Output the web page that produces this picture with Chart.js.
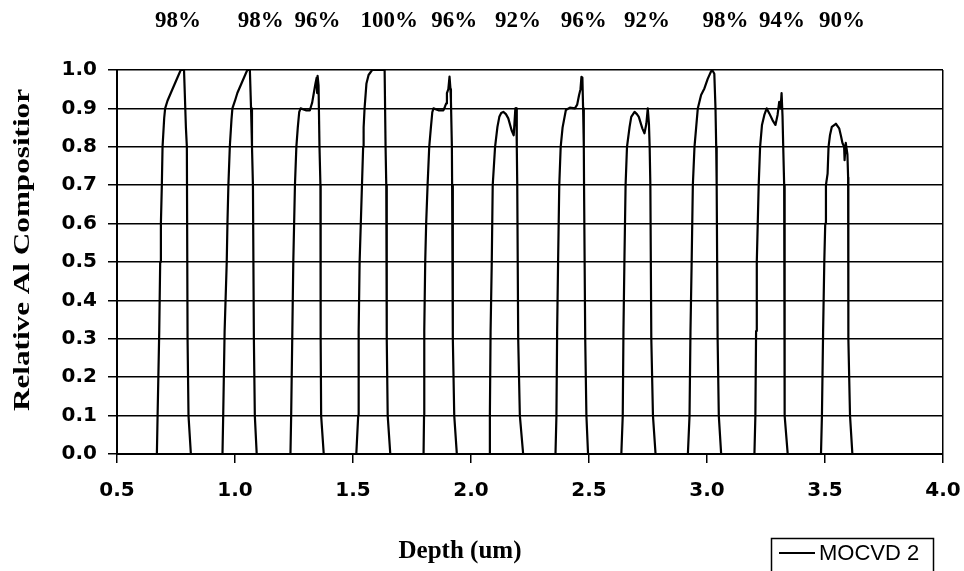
<!DOCTYPE html>
<html>
<head>
<meta charset="utf-8">
<script src="https://cdn.jsdelivr.net/npm/chart.js@4"></script>
<style>
  html, body { margin: 0; padding: 0; background: #fff; }
</style>
</head>
<body>
<canvas id="chart" width="964" height="571"></canvas>
<script>
// depth (um) and relative Al composition, one line per AlGaAs layer
const depth = [
  0.5,
  0.669, 0.672, 0.679, 0.683, 0.686, 0.690, 0.693, 0.700, 0.704, 0.714, 0.728, 0.749, 0.770, 0.784, 0.792, 0.796, 0.799, 0.803, 0.813,
  0.947, 0.950, 0.956, 0.965, 0.968, 0.972, 0.978, 0.985, 0.989, 1.000, 1.010, 1.031, 1.052, 1.063, 1.068, 1.072, 1.076, 1.080, 1.084, 1.092,
  1.235, 1.238, 1.243, 1.247, 1.254, 1.260, 1.266, 1.272, 1.278, 1.300, 1.317, 1.322, 1.327, 1.334, 1.341, 1.346, 1.348, 1.350, 1.354, 1.358, 1.362, 1.363, 1.365, 1.376,
  1.514, 1.522, 1.524, 1.528, 1.538, 1.543, 1.545, 1.549, 1.557, 1.566, 1.581, 1.634, 1.638, 1.641, 1.643, 1.647, 1.658,
  1.799, 1.801, 1.802, 1.806, 1.810, 1.816, 1.823, 1.830, 1.836, 1.841, 1.862, 1.883, 1.890, 1.895, 1.898, 1.904, 1.909, 1.913, 1.915, 1.919, 1.920, 1.923, 1.929, 1.940,
  2.078, 2.080, 2.083, 2.088, 2.092, 2.102, 2.112, 2.120, 2.128, 2.137, 2.148, 2.158, 2.172, 2.181, 2.184, 2.188, 2.190, 2.192, 2.194, 2.196, 2.200, 2.207, 2.221,
  2.358, 2.362, 2.365, 2.369, 2.374, 2.380, 2.388, 2.402, 2.419, 2.440, 2.450, 2.458, 2.464, 2.468, 2.472, 2.475, 2.478, 2.479, 2.484, 2.489, 2.496,
  2.637, 2.643, 2.646, 2.650, 2.655, 2.661, 2.672, 2.679, 2.693, 2.703, 2.711, 2.726, 2.735, 2.743, 2.749, 2.754, 2.757, 2.760, 2.764, 2.771, 2.782,
  2.919, 2.926, 2.930, 2.935, 2.940, 2.947, 2.954, 2.961, 2.975, 2.989, 3.003, 3.017, 3.022, 3.031, 3.036, 3.039, 3.041, 3.045, 3.050, 3.060,
  3.201, 3.205, 3.208, 3.211, 3.215, 3.219, 3.225, 3.233, 3.243, 3.253, 3.264, 3.278, 3.290, 3.299, 3.306, 3.312, 3.316, 3.320, 3.323, 3.327, 3.328, 3.330, 3.342,
  3.483, 3.487, 3.492, 3.497, 3.501, 3.504, 3.511, 3.515, 3.521, 3.529, 3.546, 3.560, 3.567, 3.574, 3.581, 3.583, 3.588, 3.595, 3.598, 3.599, 3.606, 3.616,
  4.0
];
const alComp = [
  0,
  0, 0.1, 0.32, 0.50, 0.60, 0.70, 0.80, 0.875, 0.90, 0.92, 0.94, 0.97, 1.0, 1.0, 0.85, 0.80, 0.30, 0.10, 0,
  0, 0.1, 0.32, 0.50, 0.60, 0.70, 0.80, 0.87, 0.90, 0.92, 0.94, 0.97, 1.0, 1.0, 0.90, 0.80, 0.70, 0.30, 0.10, 0,
  0, 0.1, 0.32, 0.50, 0.70, 0.80, 0.85, 0.89, 0.90, 0.895, 0.895, 0.905, 0.915, 0.94, 0.965, 0.98, 0.94, 0.985, 0.96, 0.80, 0.70, 0.30, 0.10, 0,
  0, 0.1, 0.32, 0.50, 0.70, 0.80, 0.85, 0.90, 0.965, 0.987, 1.0, 1.0, 0.80, 0.70, 0.30, 0.10, 0,
  0, 0.1, 0.32, 0.50, 0.60, 0.70, 0.80, 0.85, 0.89, 0.90, 0.895, 0.895, 0.905, 0.913, 0.94, 0.95, 0.983, 0.95, 0.92, 0.80, 0.70, 0.30, 0.10, 0,
  0, 0.1, 0.32, 0.50, 0.70, 0.80, 0.852, 0.878, 0.888, 0.891, 0.885, 0.874, 0.843, 0.83, 0.86, 0.90, 0.87, 0.90, 0.80, 0.70, 0.30, 0.10, 0,
  0, 0.1, 0.32, 0.50, 0.70, 0.80, 0.85, 0.896, 0.902, 0.90, 0.91, 0.935, 0.95, 0.982, 0.98, 0.90, 0.80, 0.70, 0.30, 0.10, 0,
  0, 0.1, 0.32, 0.50, 0.70, 0.80, 0.852, 0.878, 0.891, 0.885, 0.878, 0.848, 0.835, 0.86, 0.90, 0.86, 0.80, 0.70, 0.30, 0.10, 0,
  0, 0.1, 0.32, 0.50, 0.70, 0.80, 0.85, 0.90, 0.935, 0.952, 0.977, 0.996, 1.0, 0.99, 0.90, 0.80, 0.70, 0.30, 0.10, 0,
  0, 0.1, 0.32, 0.50, 0.60, 0.70, 0.80, 0.857, 0.883, 0.90, 0.887, 0.869, 0.857, 0.883, 0.917, 0.90, 0.94, 0.88, 0.80, 0.70, 0.30, 0.10, 0,
  0, 0.1, 0.32, 0.50, 0.60, 0.70, 0.73, 0.80, 0.83, 0.852, 0.86, 0.848, 0.83, 0.81, 0.80, 0.765, 0.81, 0.78, 0.72, 0.30, 0.10, 0,
  0
];

// percentages written above the layers, and where they sit on the depth axis
const layerLabels = ['98%', '98%', '96%', '100%', '96%', '92%', '96%', '92%', '98%', '94%', '90%'];
const labelDepth = [0.758, 1.109, 1.350, 1.654, 1.929, 2.199, 2.478, 2.746, 3.078, 3.318, 3.572];

const xTicks = [0.5, 1.0, 1.5, 2.0, 2.5, 3.0, 3.5, 4.0];
const yTicks = [0, 0.1, 0.2, 0.3, 0.4, 0.5, 0.6, 0.7, 0.8, 0.9, 1.0];

const seriesName = 'MOCVD 2';
const xTitle = 'Depth (um)';
const yTitle = 'Relative Al Compositior';

const points = depth.map((d, i) => ({ x: d, y: alComp[i] }));

const tickFont = { family: '"DejaVu Sans"', size: 20, weight: 'bold' };

// titles, layer percentages and the little legend box
const annotate = {
  id: 'annotate',
  afterDraw(chart) {
    const ctx = chart.ctx;
    const x = chart.scales.x;
    ctx.save();
    ctx.fillStyle = '#000';
    ctx.textAlign = 'center';
    ctx.textBaseline = 'middle';

    ctx.font = 'bold 23px "Liberation Serif"';
    layerLabels.forEach((t, i) => {
      ctx.fillText(t, x.getPixelForValue(labelDepth[i]), 21);
    });

    ctx.font = 'bold 25px "Liberation Serif"';
    ctx.fillText(xTitle, 460, 552);

    ctx.save();
    ctx.translate(23, 250);
    ctx.rotate(-Math.PI / 2);
    ctx.font = 'bold 24px "Liberation Serif"';
    const w = ctx.measureText(yTitle).width;
    ctx.scale(322 / w, 1);
    ctx.fillText(yTitle, 0, 0);
    ctx.restore();

    // legend
    ctx.strokeStyle = '#000';
    ctx.lineWidth = 1.5;
    ctx.strokeRect(771.5, 538.5, 162, 45);
    ctx.lineWidth = 2;
    ctx.beginPath();
    ctx.moveTo(779, 553);
    ctx.lineTo(815, 553);
    ctx.stroke();
    ctx.font = '22px "Liberation Sans"';
    ctx.textAlign = 'left';
    ctx.fillText(seriesName, 819, 554);
    ctx.restore();
  }
};

new Chart(document.getElementById('chart'), {
  type: 'scatter',
  data: {
    datasets: [{
      label: seriesName,
      data: points,
      showLine: true,
      borderColor: '#000',
      borderWidth: 2.2,
      borderJoinStyle: 'round',
      pointRadius: 0,
      tension: 0
    }]
  },
  options: {
    responsive: false,
    animation: false,
    layout: { padding: { top: 70, right: 21, left: 0, bottom: 0 } },
    plugins: { legend: { display: false }, tooltip: { enabled: false } },
    scales: {
      x: {
        type: 'linear',
        min: 0.5,
        max: 4.0,
        afterFit: s => {
          s.height = 117;
          s.paddingLeft = 0;
          s.paddingRight = 0;
        },
        afterBuildTicks: s => { s.ticks = xTicks.map(v => ({ value: v })); },
        ticks: {
          callback: v => v.toFixed(1),
          font: tickFont,
          color: '#000',
          padding: 16,
          maxRotation: 0
        },
        grid: {
          color: c => (c.tick && c.tick.value === 4 ? '#000' : 'rgba(0,0,0,0)'),
          tickColor: '#000',
          tickLength: 9,
          lineWidth: 1.5
        },
        border: { color: '#000', width: 2 }
      },
      y: {
        min: 0,
        max: 1,
        afterFit: s => { s.width = 117; },
        afterBuildTicks: s => { s.ticks = yTicks.map(v => ({ value: v })); },
        ticks: {
          callback: v => v.toFixed(1),
          font: tickFont,
          color: '#000',
          padding: 11
        },
        grid: {
          color: '#000',
          tickColor: '#000',
          tickLength: 9,
          lineWidth: 1.5
        },
        border: { color: '#000', width: 2 }
      }
    }
  },
  plugins: [annotate]
});
</script>
</body>
</html>
